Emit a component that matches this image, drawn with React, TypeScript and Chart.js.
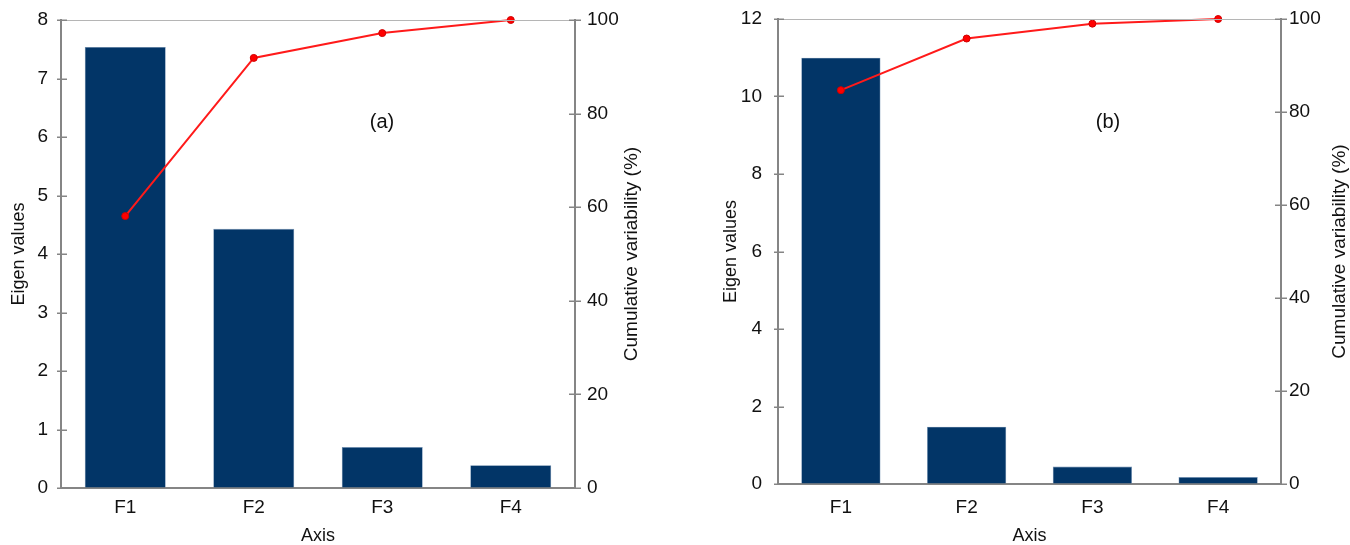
import React, { useEffect, useRef } from "react";
import { Chart, registerables } from "chart.js";

Chart.register(...registerables);

// ---------- data ----------
const categories = ["F1", "F2", "F3", "F4"];
const eigenA = [7.54, 4.43, 0.7, 0.39];
const cumulA = [58.1, 91.9, 97.2, 100];
const eigenB = [11.0, 1.48, 0.45, 0.18];
const cumulB = [84.7, 95.8, 99.0, 100];
const eigenMaxA = 8;
const eigenStepA = 1;
const eigenMaxB = 12;
const eigenStepB = 2;
const cumulMax = 100;
const cumulStep = 20;
const panelLabels = ["(a)", "(b)"];
const xTitle = "Axis";
const yTitle = "Eigen values";
const y1Title = "Cumulative variability (%)";

const FONT = "'Liberation Sans', Arial, Helvetica, sans-serif";
const AXIS_GRAY = "#858585";
const BAR_COLOR = "#023567";
const LINE_RED = "#ff1a1a";

type PanelCfg = {
  eigen: number[];
  cumul: number[];
  eigenMax: number;
  eigenStep: number;
  label: string;
  width: number;
  leftW: number;
  rightW: number;
  topPad: number;
  bottomH: number;
  leftPad: number;
  rightPad: number;
  xPad: number;
  yTitlePad: number;
  y1TitleX: number;
  labelX: number;
  labelY: number;
};

const decorPlugin = {
  id: "decor",
  afterDraw(chart: any, _args: any, opts: any) {
    const ctx = chart.ctx;
    const area = chart.chartArea;
    ctx.save();
    // top frame line
    ctx.strokeStyle = "#b5b5b5";
    ctx.lineWidth = 1;
    ctx.beginPath();
    ctx.moveTo(area.left, area.top + 0.5);
    ctx.lineTo(area.right, area.top + 0.5);
    ctx.stroke();
    // crossing tick marks on both y axes
    ctx.strokeStyle = AXIS_GRAY;
    ctx.lineWidth = 1.5;
    const ys = chart.scales.y;
    const y1 = chart.scales.y1;
    ys.ticks.forEach((_t: any, i: number) => {
      const p = Math.round(ys.getPixelForTick(i)) + 0.25;
      ctx.beginPath();
      ctx.moveTo(area.left - 4, p);
      ctx.lineTo(area.left + 6, p);
      ctx.stroke();
    });
    y1.ticks.forEach((_t: any, i: number) => {
      const p = Math.round(y1.getPixelForTick(i)) + 0.25;
      ctx.beginPath();
      ctx.moveTo(area.right - 6, p);
      ctx.lineTo(area.right + 6, p);
      ctx.stroke();
    });
    // right axis title (reads bottom to top)
    ctx.fillStyle = "#111";
    ctx.font = `19px ${FONT}`;
    ctx.textAlign = "center";
    ctx.textBaseline = "middle";
    ctx.save();
    ctx.translate(opts.y1TitleX, (area.top + area.bottom) / 2);
    ctx.rotate(-Math.PI / 2);
    ctx.fillText(y1Title, 0, 0);
    ctx.restore();
    // panel label
    ctx.font = `20px ${FONT}`;
    ctx.fillText(opts.label, opts.labelX, opts.labelY);
    ctx.restore();
  },
};

function Panel({ cfg }: { cfg: PanelCfg }) {
  const ref = useRef<HTMLCanvasElement | null>(null);
  useEffect(() => {
    if (!ref.current) return;
    const tickFont = { family: FONT, size: 19 };
    const chart = new Chart(ref.current, {
      type: "bar",
      data: {
        labels: categories,
        datasets: [
          {
            type: "line",
            data: cfg.cumul,
            yAxisID: "y1",
            borderColor: LINE_RED,
            backgroundColor: LINE_RED,
            borderWidth: 2,
            pointRadius: 3.5,
            pointBackgroundColor: "#ff0000",
            pointBorderColor: "#d00000",
            pointBorderWidth: 1,
            tension: 0,
            clip: false,
            order: 0,
          } as any,
          {
            type: "bar",
            data: cfg.eigen,
            yAxisID: "y",
            backgroundColor: BAR_COLOR,
            borderColor: "#6d8db0",
            borderWidth: 0.6,
            categoryPercentage: 0.63,
            barPercentage: 1,
            order: 1,
          } as any,
        ],
      },
      options: {
        responsive: false,
        animation: false,
        maintainAspectRatio: false,
        layout: {
          padding: { top: cfg.topPad, left: 0, right: 0, bottom: 0 },
        },
        plugins: {
          legend: { display: false },
          tooltip: { enabled: false },
          decor: {
            label: cfg.label,
            labelX: cfg.labelX,
            labelY: cfg.labelY,
            y1TitleX: cfg.y1TitleX,
          },
        } as any,
        scales: {
          x: {
            type: "category",
            offset: true,
            grid: { display: false, drawTicks: false },
            border: { display: true, color: AXIS_GRAY, width: 2 },
            ticks: { color: "#111", font: tickFont, padding: cfg.xPad, maxRotation: 0 },
            title: {
              display: true,
              text: xTitle,
              color: "#111",
              font: { family: FONT, size: 18, lineHeight: 1 },
              padding: { top: 0, bottom: 0 },
            },
            afterFit: (s: any) => {
              s.height = cfg.bottomH;
            },
          },
          y: {
            position: "left",
            min: 0,
            max: cfg.eigenMax,
            ticks: {
              stepSize: cfg.eigenStep,
              color: "#111",
              font: tickFont,
              padding: 0,
            },
            grid: {
              display: true,
              drawOnChartArea: false,
              drawTicks: true,
              tickLength: cfg.leftPad,
              color: "rgba(0,0,0,0)",
              tickColor: "rgba(0,0,0,0)",
            },
            border: { display: true, color: AXIS_GRAY, width: 2 },
            title: {
              display: true,
              text: yTitle,
              color: "#111",
              font: { family: FONT, size: 18, lineHeight: 1.2 },
              padding: { top: cfg.yTitlePad, bottom: 0 },
            },
            afterFit: (s: any) => {
              s.width = cfg.leftW;
            },
          },
          y1: {
            position: "right",
            min: 0,
            max: cumulMax,
            ticks: {
              stepSize: cumulStep,
              color: "#111",
              font: tickFont,
              padding: 0,
            },
            grid: {
              display: true,
              drawOnChartArea: false,
              drawTicks: true,
              tickLength: cfg.rightPad,
              color: "rgba(0,0,0,0)",
              tickColor: "rgba(0,0,0,0)",
            },
            border: { display: true, color: AXIS_GRAY, width: 2 },
            afterFit: (s: any) => {
              s.width = cfg.rightW;
            },
          },
        },
      } as any,
      plugins: [decorPlugin],
    });
    return () => chart.destroy();
  }, [cfg]);
  return (
    <canvas
      ref={ref}
      width={cfg.width}
      height={545}
      style={{ display: "block", width: cfg.width, height: 545 }}
    />
  );
}

const panelA: PanelCfg = {
  eigen: eigenA,
  cumul: cumulA,
  eigenMax: eigenMaxA,
  eigenStep: eigenStepA,
  label: panelLabels[0],
  width: 675,
  leftW: 61,
  rightW: 100,
  topPad: 20,
  bottomH: 57,
  leftPad: 13,
  rightPad: 12,
  xPad: 8,
  yTitlePad: 8,
  y1TitleX: 632,
  labelX: 382,
  labelY: 122,
};

const panelB: PanelCfg = {
  eigen: eigenB,
  cumul: cumulB,
  eigenMax: eigenMaxB,
  eigenStep: eigenStepB,
  label: panelLabels[1],
  width: 675,
  leftW: 103,
  rightW: 69,
  topPad: 19,
  bottomH: 61,
  leftPad: 16,
  rightPad: 8,
  xPad: 12,
  yTitlePad: 45,
  y1TitleX: 665,
  labelX: 433,
  labelY: 122,
};

export default function App() {
  return (
    <div
      style={{
        position: "fixed",
        left: 0,
        top: 0,
        width: 1350,
        height: 545,
        background: "#fff",
        display: "flex",
      }}
    >
      <Panel cfg={panelA} />
      <Panel cfg={panelB} />
    </div>
  );
}
